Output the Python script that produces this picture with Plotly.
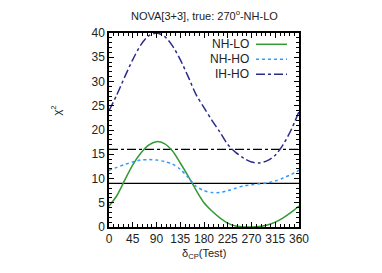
import plotly.graph_objects as go

delta = [0, 15, 30, 45, 60, 75, 90, 105, 120, 135, 150, 165, 180,
         195, 210, 225, 240, 255, 270, 285, 300, 315, 330, 345, 360]
nh_lo = [4.3, 6.5, 9.7, 12.8, 15.2, 16.9, 17.6, 17.2, 15.7, 13.2, 10.5, 7.6, 5.0,
         3.3, 1.9, 0.8, 0.2, 0.0, 0.0, 0.1, 0.4, 1.0, 1.9, 3.0, 4.3]
nh_ho = [11.7, 12.3, 12.9, 13.4, 13.8, 13.9, 13.8, 13.5, 13.0, 11.9, 10.2, 8.4, 7.5,
         7.1, 7.1, 7.5, 8.0, 8.5, 8.7, 8.9, 9.1, 9.5, 10.1, 10.8, 11.7]
ih_ho = [24.0, 27.3, 31.0, 34.5, 37.5, 39.4, 40.0, 39.3, 37.4, 34.5, 31.0, 27.3, 24.6,
         22.0, 19.6, 17.0, 15.4, 14.2, 13.4, 13.2, 13.7, 14.8, 17.0, 20.0, 23.8]
names = ["NH-LO", "NH-HO", "IH-HO"]
ref_levels = [16, 9]
x_ticks = [0, 45, 90, 135, 180, 225, 270, 315, 360]
y_ticks = [0, 5, 10, 15, 20, 25, 30, 35, 40]

colors = ["#339933", "#3399ff", "#2b2b8c"]
dashes = ["solid", "dot", "dashdot"]
series = [nh_lo, nh_ho, ih_ho]

# page body has an 8px default margin; compensate so the plot lands where the reference has it
OFF = 8
L, T, PW, PH = 109 - OFF, 33 - OFF, 190, 194
W, H = 382, 273

fig = go.Figure()
fig.add_trace(go.Scatter(x=[0, 360], y=[ref_levels[0]] * 2, mode="lines",
                         line=dict(color="black", width=1.2, dash="dashdot"),
                         showlegend=False, hoverinfo="skip"))
fig.add_trace(go.Scatter(x=[0, 360], y=[ref_levels[1]] * 2, mode="lines",
                         line=dict(color="black", width=1.2),
                         showlegend=False, hoverinfo="skip"))
for name, ys, c, d in zip(names, series, colors, dashes):
    fig.add_trace(go.Scatter(x=delta, y=ys, mode="lines", name=name,
                             line=dict(color=c, width=1.5, dash=d, shape="spline", smoothing=0.8),
                             showlegend=False))

font_family = "Liberation Sans, Arial, sans-serif"
fsz = 11

# custom legend: text right-aligned, line sample on the right
leg_y = [44.3, 59.3, 74.3]
for name, c, d, yy in zip(names, colors, dashes, leg_y):
    yp = 1 - (yy - 33) / PH
    fig.add_annotation(x=(251 - 109) / PW, y=yp, xref="paper", yref="paper",
                       text=name, showarrow=False, xanchor="right", yanchor="middle",
                       font=dict(size=12, color="#222", family=font_family))
    fig.add_shape(type="line", xref="paper", yref="paper",
                  x0=(256 - 109) / PW, x1=(287 - 109) / PW, y0=yp, y1=yp,
                  line=dict(color=c, width=1.5, dash=d))

fig.add_annotation(x=0.5, y=1, xref="paper", yref="paper", yshift=18,
                   text="NOVA[3+3], true: 270<sup>o</sup>-NH-LO", showarrow=False,
                   xanchor="center", yanchor="middle",
                   font=dict(size=fsz, color="#222", family=font_family))
fig.add_annotation(x=0.5, y=0, xref="paper", yref="paper", yshift=-27,
                   text="δ<sub>CP</sub>(Test)", showarrow=False,
                   xanchor="center", yanchor="middle",
                   font=dict(size=fsz, color="#222", family=font_family))
fig.add_annotation(x=0, y=0.6, xref="paper", yref="paper", xshift=-53,
                   text="χ<sup>2</sup>", showarrow=False, textangle=-90,
                   xanchor="center", yanchor="middle",
                   font=dict(size=fsz, color="#222", family=font_family))

axis_common = dict(showline=True, linecolor="black", linewidth=1.5, mirror="allticks",
                   ticks="inside", ticklen=5, tickwidth=1, tickcolor="black",
                   showgrid=False, zeroline=False,
                   tickfont=dict(size=12, color="#222", family=font_family))
fig.update_xaxes(range=[0, 360], tickvals=x_ticks,
                 minor=dict(dtick=9, ticks="inside", ticklen=3, tickcolor="black", showgrid=False),
                 **axis_common)
fig.update_yaxes(range=[0, 40], tickvals=y_ticks,
                 minor=dict(dtick=1, ticks="inside", ticklen=3, tickcolor="black", showgrid=False),
                 **axis_common)

fig.update_layout(width=W, height=H,
                  margin=dict(l=L, r=W - L - PW, t=T, b=H - T - PH, autoexpand=False),
                  paper_bgcolor="white", plot_bgcolor="white", showlegend=False)
fig.write_html("out.html")
